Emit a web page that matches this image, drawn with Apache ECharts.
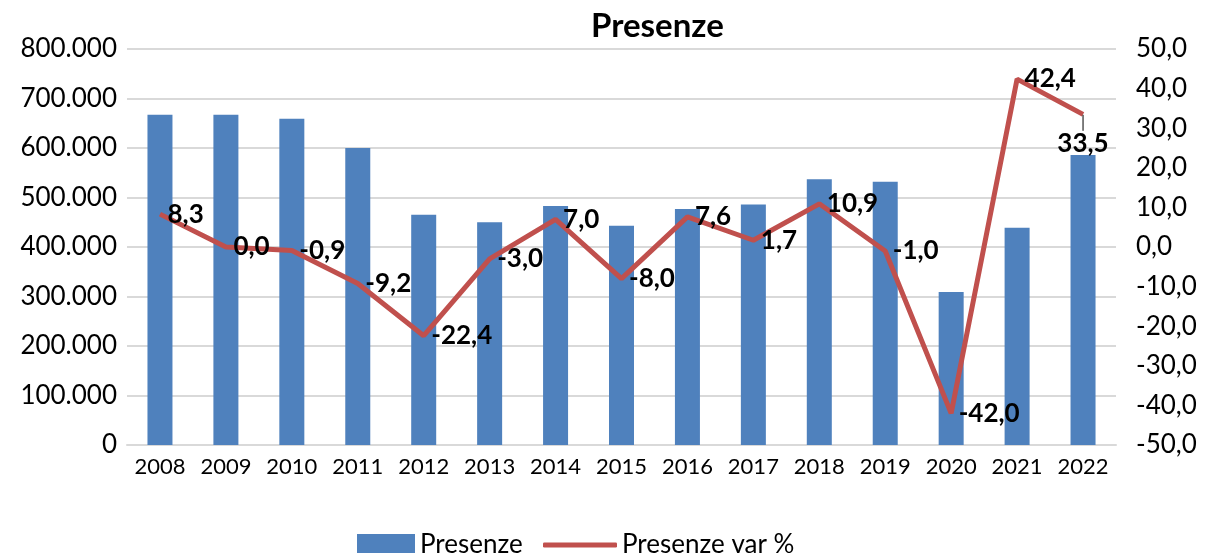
<!DOCTYPE html>
<html>
<head>
<meta charset="utf-8">
<script src="https://cdn.jsdelivr.net/npm/echarts@6/dist/echarts.min.js"></script>
<style>html,body{margin:0;padding:0;background:#fff}#c{width:1205px;height:553px}</style>
</head>
<body>
<div id="c"></div>
<script>
const years = ['2008','2009','2010','2011','2012','2013','2014','2015','2016','2017','2018','2019','2020','2021','2022'];
const presenze = [667000, 667000, 659000, 600000, 465000, 450000, 483000, 443000, 477000, 486000, 537000, 532000, 309000, 439000, 586000];
const presenzeVar = [8.3, 0.0, -0.9, -9.2, -22.4, -3.0, 7.0, -8.0, 7.6, 1.7, 10.9, -1.0, -42.0, 42.4, 33.5];
const leftTicks = {min: 0, max: 800000, interval: 100000};
const rightTicks = {min: -50, max: 50, interval: 10};

const FONT = 'Lato';
const fmtThousands = v => String(v).replace(/\B(?=(\d{3})+(?!\d))/g, '.');
const fmtDec = v => Number(v).toFixed(1).replace('.', ',');

const lineData = presenzeVar.map((v, i) => {
  if (i === presenzeVar.length - 1) {
    return {
      value: v,
      label: {position: 'bottom', distance: 2},
      labelLine: {show: true, lineStyle: {color: '#000', width: 1}}
    };
  }
  return v;
});

const chart = echarts.init(document.getElementById('c'), null, {renderer: 'canvas'});
chart.setOption({
  animation: false,
  backgroundColor: '#fff',
  title: {
    text: 'Presenze',
    left: 586,
    top: 5,
    textStyle: {fontFamily: FONT, fontWeight: 'bold', fontSize: 33, color: '#000'}
  },
  legend: [
    {
      data: [{name: 'Presenze', icon: 'rect'}],
      left: 352, top: 527,
      itemWidth: 58, itemHeight: 22, itemGap: 6,
      textStyle: {fontFamily: FONT, fontSize: 26, color: '#000'}
    },
    {
      data: [{name: 'Presenze var %', icon: 'roundRect', itemStyle: {color: '#C0504D', opacity: 1}}],
      left: 538, top: 527,
      itemWidth: 74, itemHeight: 5,
      textStyle: {fontFamily: FONT, fontSize: 26, color: '#000'}
    }
  ],
  grid: {left: 127, right: 89, top: 49, bottom: 108, containLabel: false},
  xAxis: {
    type: 'category',
    data: years,
    axisLine: {lineStyle: {color: '#d9d9d9', width: 2}},
    axisTick: {show: false},
    axisLabel: {fontFamily: FONT, fontSize: 22, color: '#000', margin: 11, interval: 0}
  },
  yAxis: [
    {
      type: 'value',
      min: leftTicks.min, max: leftTicks.max, interval: leftTicks.interval,
      axisLine: {show: false},
      axisTick: {show: false},
      splitLine: {lineStyle: {color: '#d9d9d9', width: 2}},
      axisLabel: {fontFamily: FONT, fontSize: 26, color: '#000', margin: 10, formatter: fmtThousands}
    },
    {
      type: 'value',
      min: rightTicks.min, max: rightTicks.max, interval: rightTicks.interval,
      axisLine: {show: false},
      axisTick: {show: false},
      splitLine: {show: false},
      axisLabel: {fontFamily: FONT, fontSize: 26, color: '#000', margin: 20, formatter: fmtDec}
    }
  ],
  series: [
    {
      name: 'Presenze',
      type: 'bar',
      data: presenze,
      barWidth: 25,
      itemStyle: {color: '#4F81BD'},
      z: 2
    },
    {
      name: 'Presenze var %',
      type: 'line',
      yAxisIndex: 1,
      data: lineData,
      symbol: 'circle',
      symbolSize: 1,
      showSymbol: true,
      lineStyle: {color: '#C0504D', width: 5},
      itemStyle: {color: 'rgba(192,80,77,0)', borderWidth: 0},
      z: 3,
      label: {
        show: true,
        position: 'right',
        distance: 7,
        fontFamily: FONT,
        fontWeight: 'bold',
        fontSize: 26,
        color: '#000',
        formatter: p => fmtDec(p.value)
      },
      labelLayout: p => (p.dataIndex === presenzeVar.length - 1 ? {dy: 14} : {})
    }
  ]
});
</script>
</body>
</html>
